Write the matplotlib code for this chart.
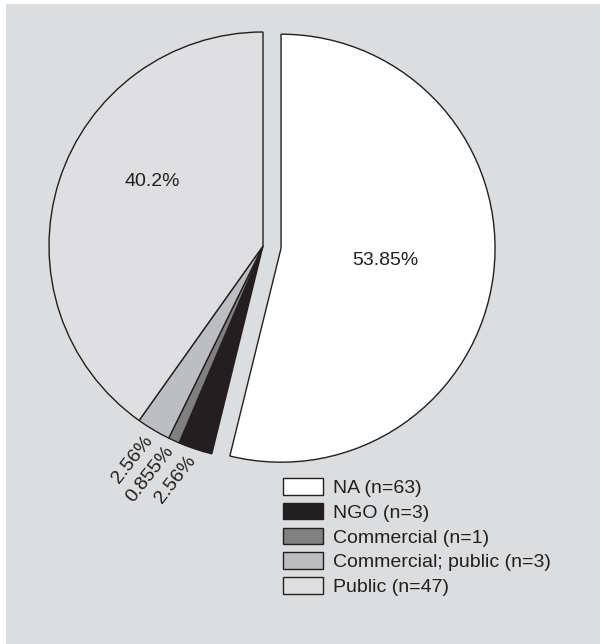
import numpy as np
import matplotlib.pyplot as plt
from matplotlib.patches import Rectangle

# data
categories = ['NA', 'NGO', 'Commercial', 'Commercial; public', 'Public']
counts = [63, 3, 1, 3, 47]
pct_labels = ['53.85%', '2.56%', '0.855%', '2.56%', '40.2%']
colors = ['#ffffff', '#231f20', '#808080', '#bdbec1', '#dfdfe1']

font = ['Liberation Sans', 'DejaVu Sans']

fig = plt.figure(figsize=(6, 6.44), dpi=100)
fig.patches.append(Rectangle((6 / 600, 0), 1, 1 - 4 / 644, transform=fig.transFigure,
                             facecolor='#dcdddf', edgecolor='none', zorder=-1))

ax = fig.add_axes([0, 0, 1, 1])

cx, cy, r = 263, 644 - 246, 214
explode = [0.085 * r, 0, 0, 0, 0]   # pie() takes explode in data units here
legend_labels = ['{} (n={})'.format(c, n) for c, n in zip(categories, counts)]

wedges, texts = ax.pie(counts, colors=colors, explode=explode, startangle=90,
                       counterclock=False, center=(cx, cy), radius=r,
                       wedgeprops=dict(edgecolor='#231f20', linewidth=1.0),
                       frame=True)
ax.set_xlim(0, 600)
ax.set_ylim(0, 644)
ax.set_aspect('equal')
ax.axis('off')

# percent labels: inside for big slices, outside (rotated) for small ones
for w, lab, n in zip(wedges, pct_labels, counts):
    ang = np.deg2rad((w.theta1 + w.theta2) / 2)
    wx, wy = w.center
    if n / sum(counts) > 0.1:
        if lab == '40.2%':
            ang = np.deg2rad(150)
            d = 0.6
        else:
            d = 0.49
        ax.text(wx + d * r * np.cos(ang), wy + d * r * np.sin(ang), lab,
                ha='center', va='center', fontsize=14, family=font, color='#231f20')
    else:
        ax.text(wx + 1.04 * r * np.cos(ang), wy + 1.04 * r * np.sin(ang), lab,
                ha='right', va='center', rotation=52, rotation_mode='anchor',
                fontsize=14, family=font, color='#231f20')

leg = ax.legend(wedges, legend_labels, loc='upper left', bbox_to_anchor=(283 / 600, 1 - 478 / 644),
                bbox_transform=fig.transFigure, frameon=False,
                prop=dict(family=font, size=14), handlelength=2.05, handleheight=0.93,
                handletextpad=0.5, labelspacing=0.3, borderpad=0, borderaxespad=0)
for t in leg.get_texts():
    t.set_color('#231f20')

fig.savefig('out.png', dpi=100)
